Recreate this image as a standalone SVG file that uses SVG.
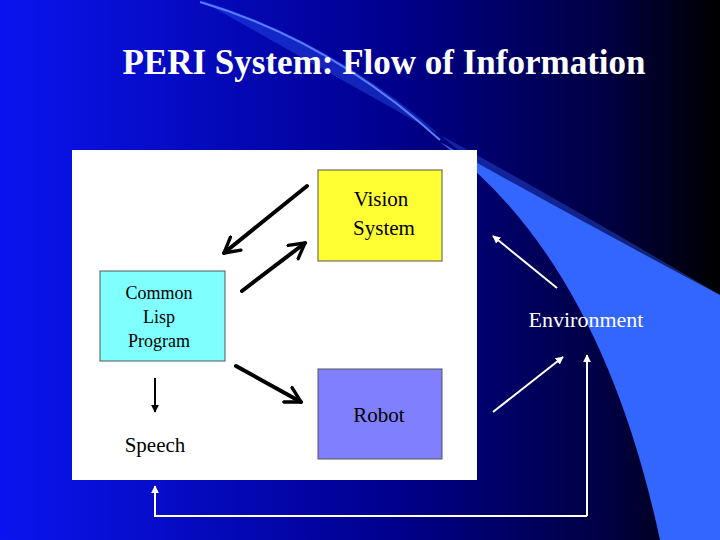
<svg xmlns="http://www.w3.org/2000/svg" width="720" height="540" viewBox="0 0 720 540">
<defs>
<linearGradient id="bg" x1="0" y1="0" x2="1" y2="0"><stop offset="0" stop-color="#0a14f0"/><stop offset="0.55" stop-color="#00008c"/><stop offset="0.85" stop-color="#000040"/><stop offset="1" stop-color="#000000"/></linearGradient>
<marker id="wh" viewBox="0 0 10 10" refX="9" refY="5" markerWidth="4" markerHeight="4" orient="auto"><path d="M0,0 L10,5 L0,10 Z" fill="#fff"/></marker>
<marker id="bk" viewBox="0 0 10 10" refX="9" refY="5" markerWidth="4" markerHeight="4" orient="auto"><path d="M0,0 L10,5 L0,10 Z" fill="#000"/></marker>
<marker id="open" viewBox="0 0 12 12" refX="10" refY="6" markerWidth="5" markerHeight="5" orient="auto"><path d="M1,1 L10,6 L1,11" fill="none" stroke="#000" stroke-width="2" stroke-linecap="round" stroke-linejoin="round"/></marker>
</defs>
<style>
text{font-family:"Liberation Serif",serif}
.t{fill:#000;font-size:21px;text-anchor:middle}
.b{stroke:#000;stroke-width:4;stroke-linecap:round;fill:none}
.w{stroke:#fff;stroke-width:2;fill:none}
</style>
<rect width="720" height="540" fill="url(#bg)"/>
<path d="M200 0 Q 330 40 440 135 Q 600 260 690 540 L 720 540 L 720 295 Q 560 200 440 135 Z" fill="#3366ff" opacity="0.35"/>
<path d="M440 142 Q 600 260 660 540 L 720 540 L 720 295 Q 560 210 440 142 Z" fill="#3366ff"/>
<path d="M200 2 Q 330 40 440 140" fill="none" stroke="#5a7cff" stroke-width="2"/>
<text x="384" y="74" font-family="Liberation Serif,serif" font-size="35" font-weight="bold" fill="#fff" text-anchor="middle">PERI System: Flow of Information</text>
<rect x="72" y="150" width="405" height="330" fill="#fff"/>
<g id="vision"><rect x="318" y="170" width="124" height="91" fill="#ffff33" stroke="#555"/><text class="t" x="381" y="206">Vision</text><text class="t" x="384" y="235">System</text></g>
<g id="lisp"><rect x="100" y="271" width="125" height="90" fill="#80ffff" stroke="#555"/><text class="t" x="159" y="299" style="font-size:18px">Common</text><text class="t" x="159" y="323" style="font-size:18px">Lisp</text><text class="t" x="159" y="347" style="font-size:18px">Program</text></g>
<g id="robot"><rect x="318" y="369" width="124" height="90" fill="#8080ff" stroke="#555"/><text class="t" x="379" y="422">Robot</text></g>
<g id="speech"><text class="t" x="155" y="452">Speech</text></g>
<g id="env"><text x="586" y="327" font-size="22" fill="#fff" text-anchor="middle">Environment</text></g>
<g id="connectors">
<line class="b" x1="307" y1="186" x2="224" y2="253" marker-end="url(#open)"/>
<line class="b" x1="242" y1="291" x2="305" y2="243" marker-end="url(#open)"/>
<line class="b" x1="236" y1="366" x2="301" y2="402" marker-end="url(#open)"/>
<line stroke="#000" stroke-width="2" x1="155" y1="378" x2="155" y2="412" marker-end="url(#bk)"/>
<line class="w" x1="557" y1="288" x2="493" y2="236" marker-end="url(#wh)"/>
<line class="w" x1="493" y1="412" x2="563" y2="357" marker-end="url(#wh)"/>
<polyline class="w" points="587,516 587,355" marker-end="url(#wh)"/>
<polyline class="w" points="587,516 155,516 155,486" marker-end="url(#wh)"/>
</g>
</svg>
